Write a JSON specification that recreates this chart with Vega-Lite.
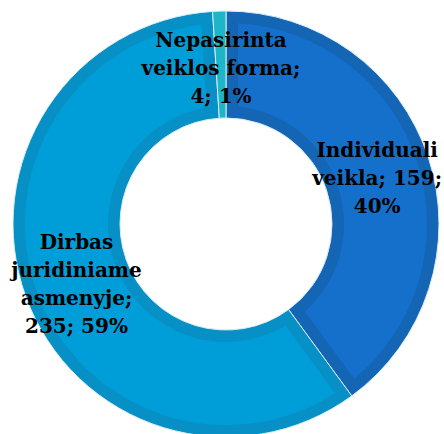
{
  "$schema": "https://vega.github.io/schema/vega-lite/v6.json",
  "autosize": "none",
  "padding": 0,
  "width": 452,
  "height": 448,
  "view": {"stroke": null},
  "data": {
    "values": [
      {"k": 1, "cat": "Individuali veikla", "n": 159, "label": "Individuali|veikla; 159;|40%"},
      {"k": 2, "cat": "Dirbas juridiniame asmenyje", "n": 235, "label": "Dirbas|juridiniame|asmenyje;|235; 59%"},
      {"k": 3, "cat": "Nepasirinta veiklos forma", "n": 4, "label": "Nepasirinta|veiklos forma;|4; 1%"}
    ]
  },
  "encoding": {
    "theta": {"field": "n", "type": "quantitative", "stack": true},
    "order": {"field": "k", "type": "quantitative"}
  },
  "layer": [
    {
      "mark": {"type": "arc", "outerRadius": 213, "innerRadius": 106, "stroke": "#d8ecf6", "strokeWidth": 1},
      "encoding": {
        "color": {
          "field": "cat", "type": "nominal", "legend": null,
          "scale": {
            "domain": ["Individuali veikla", "Dirbas juridiniame asmenyje", "Nepasirinta veiklos forma"],
            "range": ["#1565B5", "#0790C5", "#1DB6C6"]
          }
        }
      }
    },
    {
      "mark": {"type": "arc", "outerRadius": 201, "innerRadius": 118, "padAngle": 0.103},
      "encoding": {
        "color": {
          "field": "cat", "type": "nominal", "legend": null,
          "scale": {
            "domain": ["Individuali veikla", "Dirbas juridiniame asmenyje", "Nepasirinta veiklos forma"],
            "range": ["#1470CB", "#009ED8", "#1DB6C6"]
          }
        }
      }
    },
    {
      "mark": {"type": "text", "radius": 159, "dy": -24, "font": "DejaVu Serif", "fontSize": 20, "fontWeight": "bold", "lineBreak": "|", "lineHeight": 28, "color": "#000000", "align": "center", "baseline": "middle"},
      "encoding": {
        "text": {"condition": {"test": "datum.k !== 2", "field": "label", "type": "nominal"}, "value": ""}
      }
    },
    {
      "mark": {"type": "text", "radius": 159, "dy": -35, "font": "DejaVu Serif", "fontSize": 20, "fontWeight": "bold", "lineBreak": "|", "lineHeight": 28, "color": "#000000", "align": "center", "baseline": "middle"},
      "encoding": {
        "text": {"condition": {"test": "datum.k === 2", "field": "label", "type": "nominal"}, "value": ""}
      }
    }
  ],
  "resolve": {"scale": {"color": "independent"}}
}
